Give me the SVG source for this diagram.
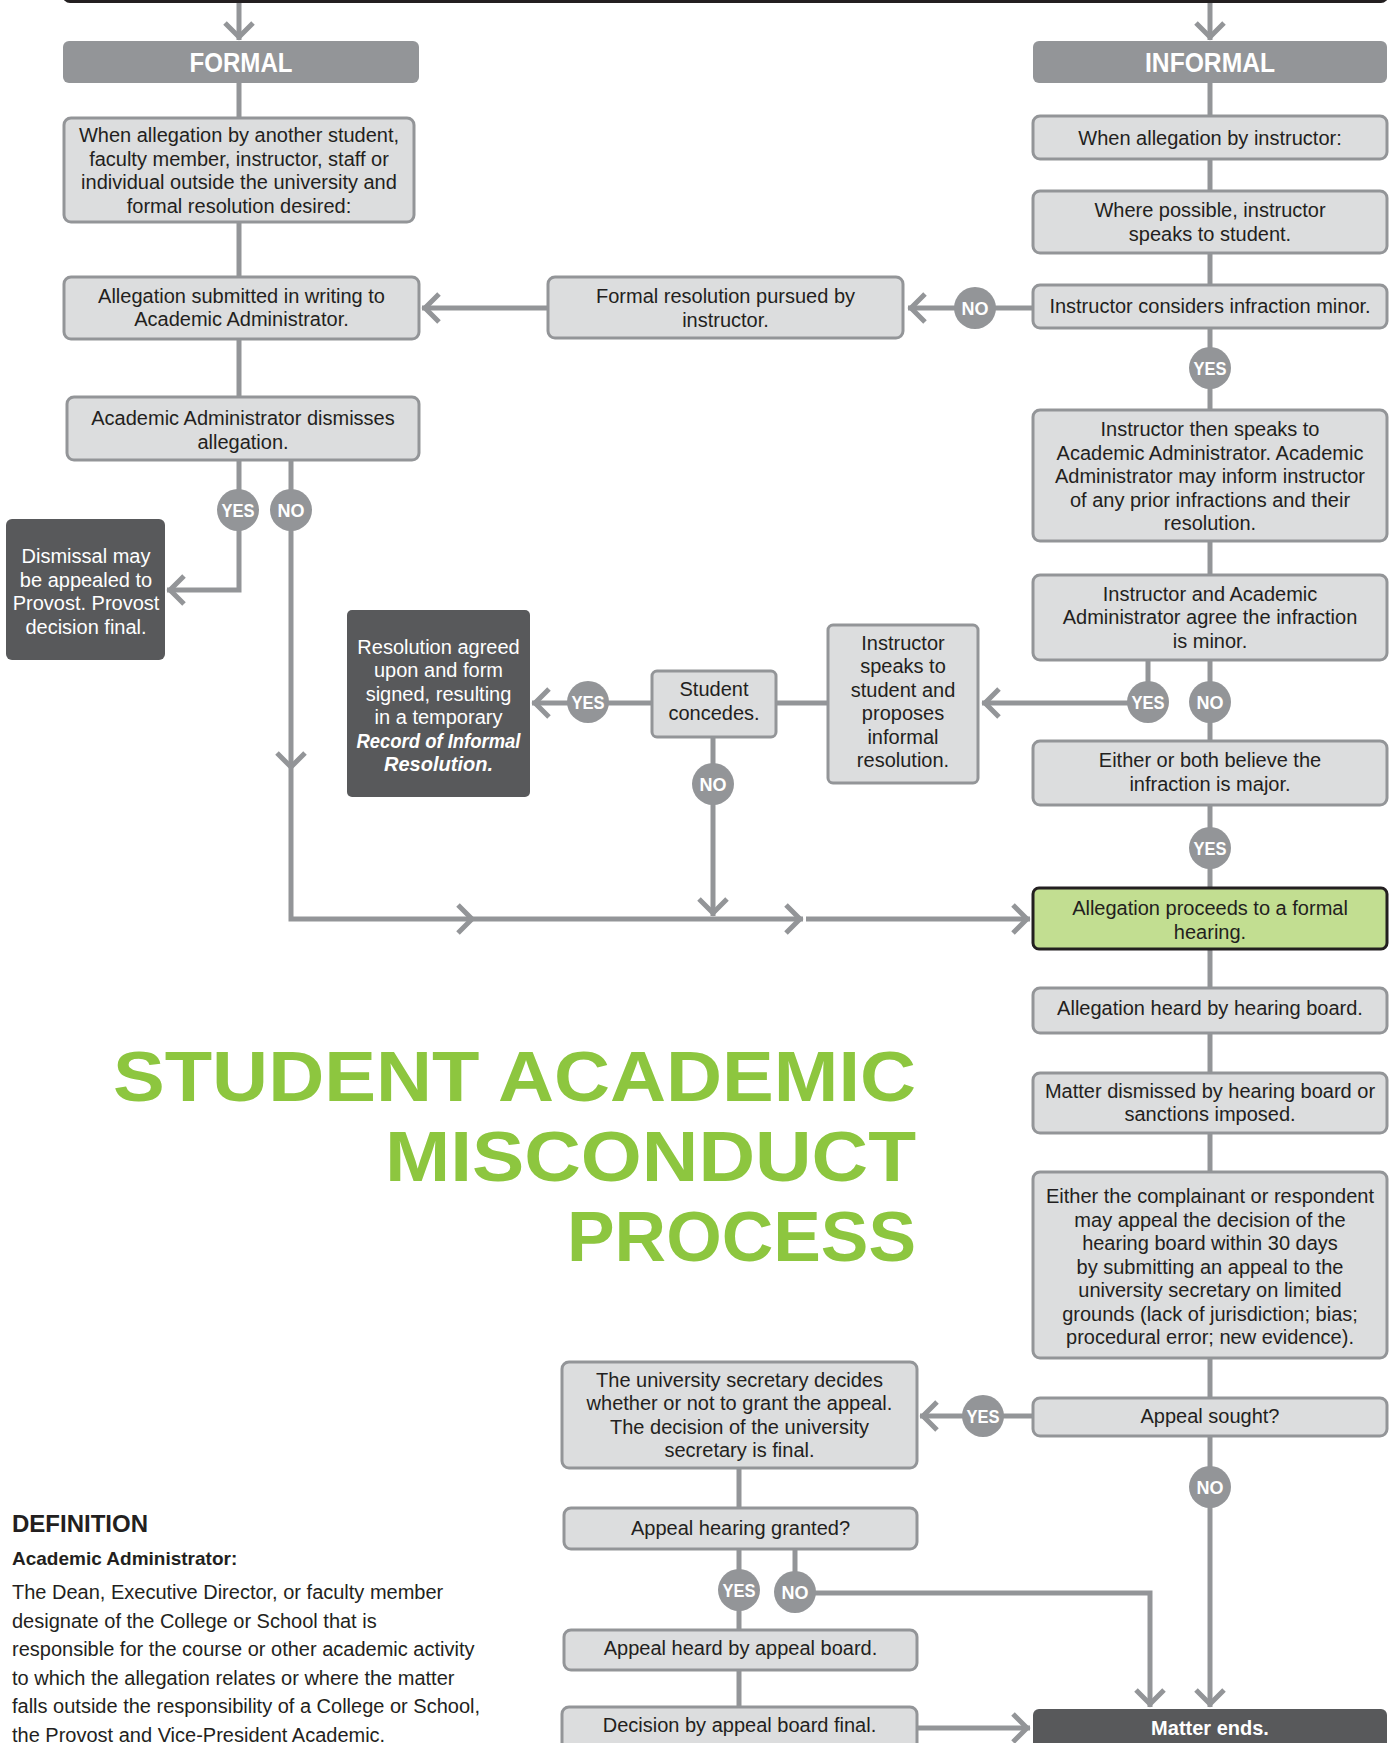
<svg xmlns="http://www.w3.org/2000/svg" width="1394" height="1743" viewBox="0 0 1394 1743">
<style>
.box{fill:#dcddde;stroke:#939598;stroke-width:3}
.dark{fill:#58595b}
.hdr{fill:#939598}
.green{fill:#c2de91;stroke:#231f20;stroke-width:3}
.t{font-family:"Liberation Sans",Arial,sans-serif;font-size:20px;fill:#231f20;text-anchor:middle}
.w{fill:#ffffff}
.b{font-weight:bold}
.bi{font-weight:bold;font-style:italic}
.h{font-family:"Liberation Sans",Arial,sans-serif;font-size:27px;font-weight:bold;fill:#ffffff;text-anchor:middle}
.conn path{fill:none;stroke:#939598;stroke-width:5}
.lbl circle{fill:#939598}
.lbl text{font-family:"Liberation Sans",Arial,sans-serif;font-size:19px;font-weight:bold;fill:#ffffff;text-anchor:middle}
.title{font-family:"Liberation Sans",Arial,sans-serif;font-size:71px;font-weight:bold;fill:#8dc63f}
.def{font-family:"Liberation Sans",Arial,sans-serif;fill:#231f20}
</style>
<defs>
<marker id="a" markerUnits="userSpaceOnUse" markerWidth="40" markerHeight="40" viewBox="-20 -20 40 40" refX="0" refY="0" orient="auto" overflow="visible">
<path d="M-17,-14 L-3,0 L-17,14" fill="none" stroke="#939598" stroke-width="5"/>
</marker>
</defs>
<rect width="1394" height="1743" fill="#ffffff"/>

<g id="top-bar"><rect x="64" y="-40" width="1323" height="41.5" rx="6" fill="#8dc63f" stroke="#231f20" stroke-width="3"/></g>

<g class="conn" id="connectors">
<path d="M239,3 V40" marker-end="url(#a)"/>
<path d="M1210,3 V40" marker-end="url(#a)"/>
<path d="M239,83 V397"/>
<path d="M239,460 V590 H167" marker-end="url(#a)"/>
<path d="M291,460 V770" marker-end="url(#a)"/>
<path d="M291,770 V919 H475" marker-end="url(#a)"/>
<path d="M475,919 H803" marker-end="url(#a)"/>
<path d="M806,919 H1030" marker-end="url(#a)"/>
<path d="M713,737 V916" marker-end="url(#a)"/>
<path d="M1033,308 H908" marker-end="url(#a)"/>
<path d="M548,308 H422" marker-end="url(#a)"/>
<path d="M1210,83 V1707" marker-end="url(#a)"/>
<path d="M1148,660 V703 H982" marker-end="url(#a)"/>
<path d="M828,703 H776"/>
<path d="M651,703 H532" marker-end="url(#a)"/>
<path d="M1033,1416 H920" marker-end="url(#a)"/>
<path d="M739,1468 V1707"/>
<path d="M795,1549 V1593 H1150 V1707" marker-end="url(#a)"/>
<path d="M917,1728 H1030" marker-end="url(#a)"/>
</g>

<g id="formal-header"><rect class="hdr" x="63" y="41" width="356" height="42" rx="6"/><text class="h" x="241" y="72" textLength="103" lengthAdjust="spacingAndGlyphs">FORMAL</text></g>
<g id="informal-header"><rect class="hdr" x="1033" y="41" width="354" height="42" rx="6"/><text class="h" x="1210" y="72" textLength="130" lengthAdjust="spacingAndGlyphs">INFORMAL</text></g>

<g id="formal-when"><rect class="box" x="64" y="118" width="350" height="104" rx="7"/>
<text class="t" x="239" y="142">When allegation by another student,</text>
<text class="t" x="239" y="165.5">faculty member, instructor, staff or</text>
<text class="t" x="239" y="189">individual outside the university and</text>
<text class="t" x="239" y="212.5">formal resolution desired:</text></g>

<g id="allegation-submitted"><rect class="box" x="64" y="277" width="355" height="62" rx="7"/>
<text class="t" x="241.5" y="302.5">Allegation submitted in writing to</text>
<text class="t" x="241.5" y="326">Academic Administrator.</text></g>

<g id="admin-dismisses"><rect class="box" x="67" y="397" width="352" height="63" rx="7"/>
<text class="t" x="243" y="425">Academic Administrator dismisses</text>
<text class="t" x="243" y="448.5">allegation.</text></g>

<g id="dismissal-appeal"><rect class="dark" x="6" y="519" width="159" height="141" rx="6"/>
<text class="t w" x="86" y="563">Dismissal may</text>
<text class="t w" x="86" y="586.5">be appealed to</text>
<text class="t w" x="86" y="610">Provost. Provost</text>
<text class="t w" x="86" y="633.5">decision final.</text></g>

<g id="formal-pursued"><rect class="box" x="548" y="277" width="355" height="61" rx="7"/>
<text class="t" x="725.5" y="303">Formal resolution pursued by</text>
<text class="t" x="725.5" y="326.5">instructor.</text></g>

<g id="informal-when"><rect class="box" x="1033" y="116" width="354" height="43" rx="7"/>
<text class="t" x="1210" y="144.5">When allegation by instructor:</text></g>

<g id="instructor-speaks-student"><rect class="box" x="1033" y="191" width="354" height="62" rx="7"/>
<text class="t" x="1210" y="217">Where possible, instructor</text>
<text class="t" x="1210" y="240.5">speaks to student.</text></g>

<g id="considers-minor"><rect class="box" x="1033" y="285" width="354" height="43" rx="7"/>
<text class="t" x="1210" y="313">Instructor considers infraction minor.</text></g>

<g id="speaks-admin"><rect class="box" x="1033" y="410" width="354" height="131" rx="7"/>
<text class="t" x="1210" y="436">Instructor then speaks to</text>
<text class="t" x="1210" y="459.5">Academic Administrator. Academic</text>
<text class="t" x="1210" y="483">Administrator may inform instructor</text>
<text class="t" x="1210" y="506.5">of any prior infractions and their</text>
<text class="t" x="1210" y="530">resolution.</text></g>

<g id="agree-minor"><rect class="box" x="1033" y="575" width="354" height="85" rx="7"/>
<text class="t" x="1210" y="600.5">Instructor and Academic</text>
<text class="t" x="1210" y="624">Administrator agree the infraction</text>
<text class="t" x="1210" y="647.5">is minor.</text></g>

<g id="believe-major"><rect class="box" x="1033" y="741" width="354" height="64" rx="7"/>
<text class="t" x="1210" y="767">Either or both believe the</text>
<text class="t" x="1210" y="790.5">infraction is major.</text></g>

<g id="proposes-informal"><rect class="box" x="828" y="625" width="150" height="158" rx="5"/>
<text class="t" x="903" y="649.5">Instructor</text>
<text class="t" x="903" y="673">speaks to</text>
<text class="t" x="903" y="696.5">student and</text>
<text class="t" x="903" y="720">proposes</text>
<text class="t" x="903" y="743.5">informal</text>
<text class="t" x="903" y="767">resolution.</text></g>

<g id="student-concedes"><rect class="box" x="652" y="671" width="124" height="66" rx="5"/>
<text class="t" x="714" y="696">Student</text>
<text class="t" x="714" y="720">concedes.</text></g>

<g id="resolution-agreed"><rect class="dark" x="347" y="610" width="183" height="187" rx="5"/>
<text class="t w" x="438.5" y="653.5">Resolution agreed</text>
<text class="t w" x="438.5" y="677">upon and form</text>
<text class="t w" x="438.5" y="700.5">signed, resulting</text>
<text class="t w" x="438.5" y="724">in a temporary</text>
<text class="t w bi" x="438.5" y="747.5" textLength="164" lengthAdjust="spacingAndGlyphs">Record of Informal</text>
<text class="t w bi" x="438.5" y="771">Resolution.</text></g>

<g id="formal-hearing"><rect class="green" x="1033" y="888" width="354" height="61" rx="6"/>
<text class="t" x="1210" y="915">Allegation proceeds to a formal</text>
<text class="t" x="1210" y="938.5">hearing.</text></g>

<g id="heard-hearing-board"><rect class="box" x="1033" y="988" width="354" height="45" rx="7"/>
<text class="t" x="1210" y="1015">Allegation heard by hearing board.</text></g>

<g id="matter-dismissed"><rect class="box" x="1033" y="1073" width="354" height="60" rx="7"/>
<text class="t" x="1210" y="1097.5">Matter dismissed by hearing board or</text>
<text class="t" x="1210" y="1121">sanctions imposed.</text></g>

<g id="may-appeal"><rect class="box" x="1033" y="1172" width="354" height="186" rx="7"/>
<text class="t" x="1210" y="1203">Either the complainant or respondent</text>
<text class="t" x="1210" y="1226.5">may appeal the decision of the</text>
<text class="t" x="1210" y="1250">hearing board within 30 days</text>
<text class="t" x="1210" y="1273.5">by submitting an appeal to the</text>
<text class="t" x="1210" y="1297">university secretary on limited</text>
<text class="t" x="1210" y="1320.5">grounds (lack of jurisdiction; bias;</text>
<text class="t" x="1210" y="1344">procedural error; new evidence).</text></g>

<g id="appeal-sought"><rect class="box" x="1033" y="1398" width="354" height="38" rx="7"/>
<text class="t" x="1210" y="1423">Appeal sought?</text></g>

<g id="secretary-decides"><rect class="box" x="562" y="1362" width="355" height="106" rx="7"/>
<text class="t" x="739.5" y="1386.5">The university secretary decides</text>
<text class="t" x="739.5" y="1410">whether or not to grant the appeal.</text>
<text class="t" x="739.5" y="1433.5">The decision of the university</text>
<text class="t" x="739.5" y="1457">secretary is final.</text></g>

<g id="hearing-granted"><rect class="box" x="564" y="1508" width="353" height="41" rx="7"/>
<text class="t" x="740.5" y="1535">Appeal hearing granted?</text></g>

<g id="heard-appeal-board"><rect class="box" x="564" y="1630" width="353" height="40" rx="7"/>
<text class="t" x="740.5" y="1655">Appeal heard by appeal board.</text></g>

<g id="decision-final"><rect class="box" x="562" y="1707" width="355" height="60" rx="7"/>
<text class="t" x="739.5" y="1732">Decision by appeal board final.</text></g>

<g id="matter-ends"><rect class="dark" x="1033" y="1709" width="354" height="60" rx="6"/>
<text class="t w b" x="1210" y="1735">Matter ends.</text></g>

<g class="lbl" id="labels">
<g id="lbl-no-minor"><circle cx="975" cy="308" r="21"/><text x="975" y="315" textLength="27" lengthAdjust="spacingAndGlyphs">NO</text></g>
<g id="lbl-yes-minor"><circle cx="1210" cy="368" r="21"/><text x="1210" y="375" textLength="33" lengthAdjust="spacingAndGlyphs">YES</text></g>
<g id="lbl-yes-agree"><circle cx="1148" cy="702" r="21"/><text x="1148" y="709" textLength="33" lengthAdjust="spacingAndGlyphs">YES</text></g>
<g id="lbl-no-agree"><circle cx="1210" cy="702" r="21"/><text x="1210" y="709" textLength="27" lengthAdjust="spacingAndGlyphs">NO</text></g>
<g id="lbl-yes-major"><circle cx="1210" cy="848" r="21"/><text x="1210" y="855" textLength="33" lengthAdjust="spacingAndGlyphs">YES</text></g>
<g id="lbl-yes-dismiss"><circle cx="238" cy="510" r="21"/><text x="238" y="517" textLength="33" lengthAdjust="spacingAndGlyphs">YES</text></g>
<g id="lbl-no-dismiss"><circle cx="291" cy="510" r="21"/><text x="291" y="517" textLength="27" lengthAdjust="spacingAndGlyphs">NO</text></g>
<g id="lbl-yes-concede"><circle cx="588" cy="702" r="21"/><text x="588" y="709" textLength="33" lengthAdjust="spacingAndGlyphs">YES</text></g>
<g id="lbl-no-concede"><circle cx="713" cy="784" r="21"/><text x="713" y="791" textLength="27" lengthAdjust="spacingAndGlyphs">NO</text></g>
<g id="lbl-yes-appeal"><circle cx="983" cy="1416" r="21"/><text x="983" y="1423" textLength="33" lengthAdjust="spacingAndGlyphs">YES</text></g>
<g id="lbl-no-appeal"><circle cx="1210" cy="1487" r="21"/><text x="1210" y="1494" textLength="27" lengthAdjust="spacingAndGlyphs">NO</text></g>
<g id="lbl-yes-granted"><circle cx="739" cy="1590" r="21"/><text x="739" y="1597" textLength="33" lengthAdjust="spacingAndGlyphs">YES</text></g>
<g id="lbl-no-granted"><circle cx="795" cy="1592" r="21"/><text x="795" y="1599" textLength="27" lengthAdjust="spacingAndGlyphs">NO</text></g>
</g>

<g id="title">
<text class="title" x="113" y="1100.5" textLength="803" lengthAdjust="spacingAndGlyphs">STUDENT ACADEMIC</text>
<text class="title" x="385" y="1180.5" textLength="531" lengthAdjust="spacingAndGlyphs">MISCONDUCT</text>
<text class="title" x="567" y="1260.5" textLength="349" lengthAdjust="spacingAndGlyphs">PROCESS</text>
</g>

<g id="definition">
<text class="def" x="12" y="1532" font-size="24" font-weight="bold">DEFINITION</text>
<text class="def" x="12" y="1565" font-size="19" font-weight="bold">Academic Administrator:</text>
<text class="def" x="12" y="1599" font-size="20">The Dean, Executive Director, or faculty member</text>
<text class="def" x="12" y="1627.5" font-size="20">designate of the College or School that is</text>
<text class="def" x="12" y="1656" font-size="20">responsible for the course or other academic activity</text>
<text class="def" x="12" y="1684.5" font-size="20">to which the allegation relates or where the matter</text>
<text class="def" x="12" y="1713" font-size="20">falls outside the responsibility of a College or School,</text>
<text class="def" x="12" y="1741.5" font-size="20">the Provost and Vice-President Academic.</text>
</g>
</svg>
